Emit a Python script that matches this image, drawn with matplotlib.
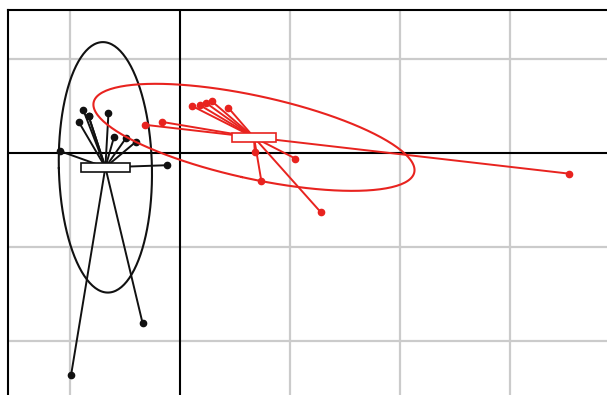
import numpy as np
import matplotlib
matplotlib.use("Agg")
import matplotlib.pyplot as plt

# Scores of the individuals on the first two axes, grouped by class
group_a_x = [-0.88, -0.83, -0.83, -0.92, -0.65, -0.60, -0.49, -0.40, -0.12, -1.09, -0.34, -0.99]
group_a_y = [0.46, 0.39, 0.39, 0.33, 0.43, 0.17, 0.16, 0.12, -0.13, 0.02, -1.81, -2.36]

group_b_x = [-0.32, -0.16, 0.11, 0.18, 0.24, 0.29, 0.44, 0.68, 1.05, 0.74, 1.28, 3.54]
group_b_y = [0.30, 0.33, 0.50, 0.51, 0.53, 0.55, 0.48, 0.01, -0.06, -0.30, -0.63, -0.22]

class_colors = ["#111111", "#e8231f"]
label_widths = [10, 9]
ellipse_coeff = 1.5

W, H = 607, 395
fig = plt.figure(figsize=(W / 100, H / 100), dpi=100)
ax = fig.add_axes([8 / W, 0, 1 - 8 / W, 1 - 10 / H])

xmin, xmax = -1.5636, 3.882
ymin, ymax = -2.574, 1.521
ax.set_xlim(xmin, xmax)
ax.set_ylim(ymin, ymax)

# grid
for gx in [-1, 1, 2, 3]:
    ax.axvline(gx, color="#cbcbcb", lw=1.6, zorder=0)
for gy in [1, -1, -2]:
    ax.axhline(gy, color="#cbcbcb", lw=1.6, zorder=0)
ax.axvline(0, color="black", lw=1.5, zorder=1)
ax.axhline(0, color="black", lw=1.5, zorder=1)

ax.set_xticks([])
ax.set_yticks([])
for side in ["right", "bottom"]:
    ax.spines[side].set_visible(False)
for side in ["left", "top"]:
    ax.spines[side].set_linewidth(1.5)


def draw_class(xs, ys, color, nchar, z):
    xs = np.asarray(xs, float)
    ys = np.asarray(ys, float)
    mx, my = xs.mean(), ys.mean()
    vx = ((xs - mx) ** 2).mean()
    vy = ((ys - my) ** 2).mean()
    cxy = ((xs - mx) * (ys - my)).mean()
    # star
    for px, py in zip(xs, ys):
        ax.plot([mx, px], [my, py], color=color, lw=1.4, zorder=z)
    ax.plot(xs, ys, "o", color=color, ms=4.5, mec=color, zorder=z + 0.1)
    # inertia ellipse
    cov = np.array([[vx, cxy], [cxy, vy]])
    vals, vecs = np.linalg.eigh(cov)
    t = np.linspace(0, 2 * np.pi, 200)
    circ = np.vstack([np.cos(t), np.sin(t)])
    pts = vecs @ (np.sqrt(np.maximum(vals, 0))[:, None] * circ) * ellipse_coeff
    ax.plot(mx + pts[0], my + pts[1], color=color, lw=1.5, zorder=z + 0.2)
    # class label box
    ax.text(mx, my, "\u2007" * nchar, fontsize=5, ha="center", va="center",
            zorder=z + 0.3,
            bbox=dict(boxstyle="square,pad=0.25", fc="white", ec=color, lw=1.2))


draw_class(group_a_x, group_a_y, class_colors[0], label_widths[0], 2)
draw_class(group_b_x, group_b_y, class_colors[1], label_widths[1], 3)

fig.savefig("out.png", dpi=100)
